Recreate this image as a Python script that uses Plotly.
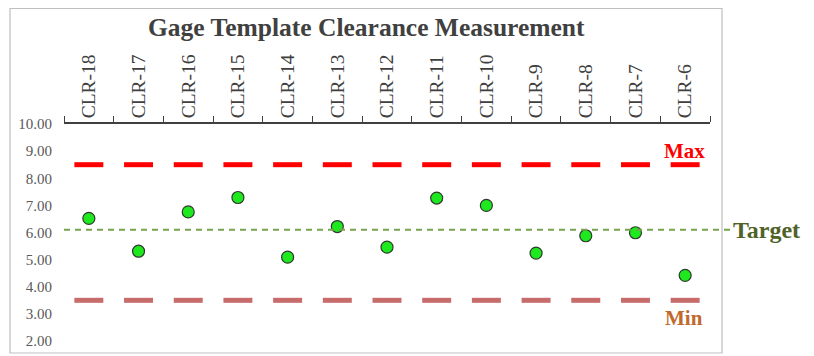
import plotly.graph_objects as go

categories = ["CLR-18", "CLR-17", "CLR-16", "CLR-15", "CLR-14", "CLR-13", "CLR-12",
              "CLR-11", "CLR-10", "CLR-9", "CLR-8", "CLR-7", "CLR-6"]
clearance = [6.52, 5.31, 6.76, 7.29, 5.09, 6.22, 5.46, 7.27, 7.00, 5.24, 5.88, 5.99, 4.42]
max_limit = [8.5] * len(categories)
min_limit = [3.5] * len(categories)
TARGET = 6.1
y_ticks = [2, 3, 4, 5, 6, 7, 8, 9, 10]

# page body has an 8px margin; figure sized so it fits the window
OFF = 8
W, H = 806, 348
L, R, T, B = 56, 104, 116, 15
pw, ph = W - L - R, H - T - B

def px(x):  # screen x -> paper
    return (x - OFF - L) / pw

def py(y):  # screen y -> paper
    return (H - B - (y - OFF)) / ph

serif = "Liberation Serif, Times New Roman, serif"

fig = go.Figure()
fig.add_trace(go.Scatter(
    x=categories, y=max_limit, mode="markers",
    marker=dict(symbol="line-ew", size=20.7, line=dict(width=5, color="#FF0000")),
    hoverinfo="skip", showlegend=False))
fig.add_trace(go.Scatter(
    x=categories, y=min_limit, mode="markers",
    marker=dict(symbol="line-ew", size=20.7, line=dict(width=5, color="#C86B6B")),
    hoverinfo="skip", showlegend=False))
fig.add_trace(go.Scatter(
    x=categories, y=clearance, mode="markers",
    marker=dict(symbol="circle", size=12, color="#1EE81E",
                line=dict(width=1.2, color="#2F3A2F")),
    showlegend=False))

# frame
fig.add_shape(type="rect", xref="paper", yref="paper",
              x0=px(10), x1=px(722), y0=py(353), y1=py(8.5),
              line=dict(color="#BFBFBF", width=1.2), layer="below")
# target line
fig.add_shape(type="line", xref="paper", yref="y",
              x0=0, x1=px(731), y0=TARGET, y1=TARGET,
              line=dict(color="#76A34E", width=2, dash="6px,5px"))

fig.add_annotation(text="<b>Target</b>", xref="paper", yref="y", x=px(731), y=TARGET,
                   xanchor="left", yanchor="middle", showarrow=False,
                   font=dict(family=serif, size=24, color="#4F6228"))
fig.add_annotation(text="<b>Max</b>", xref="paper", yref="y", x=px(684), y=max_limit[-1],
                   xanchor="center", yanchor="bottom", yshift=0, showarrow=False,
                   font=dict(family=serif, size=21, color="#FF0000"))
fig.add_annotation(text="<b>Min</b>", xref="paper", yref="y", x=px(684), y=min_limit[-1],
                   xanchor="center", yanchor="top", yshift=-4, showarrow=False,
                   font=dict(family=serif, size=21, color="#C0692D"))
fig.add_annotation(text="<b>Gage Template Clearance Measurement</b>", xref="paper", yref="paper",
                   x=px(366), y=py(28), xanchor="center", yanchor="middle", showarrow=False,
                   font=dict(family=serif, size=25.5, color="#404040"))

fig.update_layout(
    width=W, height=H,
    margin=dict(l=L, r=R, t=T, b=B, autoexpand=False),
    paper_bgcolor="white", plot_bgcolor="white",
    xaxis=dict(side="top", type="category", tickangle=-90, tickson="boundaries",
               ticks="outside", ticklen=6, tickcolor="#404040", tickwidth=1.2,
               showline=True, linecolor="#404040", linewidth=1.5, showgrid=False,
               automargin=False,
               tickfont=dict(family=serif, size=19.5, color="#404040"),
               range=[-0.5, len(categories) - 0.5]),
    yaxis=dict(range=[2, 10], tickvals=y_ticks, tickformat=".2f", showgrid=False,
               zeroline=False, showline=False, ticks="outside", ticklen=8,
               tickcolor="rgba(0,0,0,0)", automargin=False,
               tickfont=dict(family=serif, size=15, color="#595959")),
)

fig.write_html("out.html")
